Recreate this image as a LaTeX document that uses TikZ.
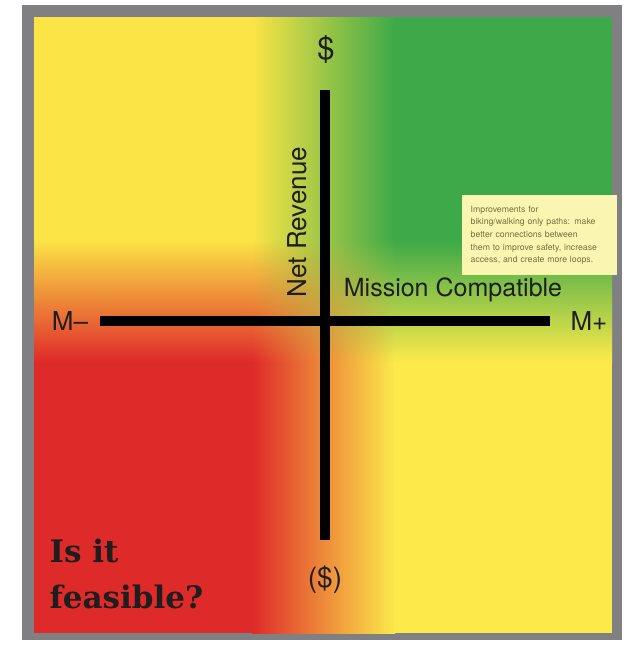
\documentclass[tikz,border=0pt]{standalone}
\usepackage{fontspec}
\usetikzlibrary{shadings}
\setmainfont{TeX Gyre Heros}
\newfontfamily\slabfont{DejaVu Serif}
\definecolor{qyellow}{HTML}{FBE446}
\definecolor{qyellowlow}{HTML}{FCEA4A}
\definecolor{qgreen}{HTML}{3DA948}
\definecolor{qred}{HTML}{DF2A2A}
\definecolor{framegray}{HTML}{808082}
\definecolor{notefill}{HTML}{FAF6B2}
\definecolor{notetext}{HTML}{77713E}
\definecolor{labelink}{HTML}{1E1E1E}
\newcommand{\XLeft}{34}
\newcommand{\XBandA}{252}
\newcommand{\XBandB}{395}
\newcommand{\XRight}{612}
\newcommand{\YTop}{17}
\newcommand{\YBandA}{240}
\newcommand{\YBandB}{362}
\newcommand{\YBottom}{633}

\begin{document}
\begin{tikzpicture}[x=1pt,y=-1pt,
		axislabel/.style={text=labelink,font=\fontsize{26}{30}\selectfont},
		notebox/.style={fill=notefill,anchor=north west,minimum width=155,minimum height=80,
			text width=138,align=left,inner xsep=8.5,inner ysep=7,text=notetext,font=\fontsize{8.7}{12.6}\selectfont},
		bigquestion/.style={text=labelink,anchor=north west,align=left,
			font=\slabfont\bfseries\fontsize{31}{46}\selectfont}]
		\useasboundingbox[fill=white] (0,0) rectangle (629,645);
		\coordinate (FrameTL) at (22,5);
		\coordinate (FrameBR) at (622,640);
		\fill[framegray] (FrameTL) rectangle (FrameBR);% Frame

		% quadrant colours, blended across the bands
		\fill[qyellow] (\XLeft,\YTop) rectangle (\XBandA,\YBandA);% Top Left
		\shade[upper left=qyellow,upper right=qgreen,lower left=qyellow,lower right=qgreen] (\XBandA,\YTop) rectangle (\XBandB,\YBandA);% Top Middle
		\fill[qgreen] (\XBandB,\YTop) rectangle (\XRight,\YBandA);% Top Right
		\shade[upper left=qyellow,upper right=qyellow,lower left=qred,lower right=qred] (\XLeft,\YBandA) rectangle (\XBandA,\YBandB);% Middle Left
		\shade[upper left=qyellow,upper right=qgreen,lower left=qred,lower right=qyellowlow] (\XBandA,\YBandA) rectangle (\XBandB,\YBandB);% Centre
		\shade[upper left=qgreen,upper right=qgreen,lower left=qyellowlow,lower right=qyellowlow] (\XBandB,\YBandA) rectangle (\XRight,\YBandB);% Middle Right
		\fill[qred] (\XLeft,\YBandB) rectangle (\XBandA,\YBottom);% Bottom Left
		\shade[upper left=qred,upper right=qyellowlow,lower left=qred,lower right=qyellowlow] (\XBandA,\YBandB) rectangle (\XBandB,\YBottom);% Bottom Middle
		\fill[qyellowlow] (\XBandB,\YBandB) rectangle (\XRight,\YBottom);% Bottom Right

		% axes
		\coordinate (RevTop) at (325,90);
		\coordinate (RevBottom) at (325,540);
		\coordinate (MisLeft) at (100,321);
		\coordinate (MisRight) at (550,321);
		\draw[black,line width=10] (MisLeft) -- (MisRight);% Mission axis
		\draw[black,line width=10] (RevTop) -- (RevBottom);% Revenue axis

		\node[axislabel,font=\fontsize{31}{34}\selectfont] (dollar) at (326,50) {\$};
		\node[axislabel,font=\fontsize{28}{32}\selectfont] (negdollar) at (325,580) {(\$)};
		\node[axislabel] (mminus) at (70,321) {M–};
		\node[axislabel] (mplus) at (589,321) {M+};
		\node[axislabel,rotate=90] (netrev) at (297,222) {Net Revenue};
		\node[axislabel,font=\fontsize{25}{30}\selectfont] (mission) at (453,290) {Mission Compatible};

		\node[notebox] (note) at (462,195) {Improvements for\\biking/walking only paths: make\\better connections between\\them to improve safety, increase\\access, and create more loops.};
		\node[bigquestion] (feasible) at (46,535) {Is it\\feasible?};
	\end{tikzpicture}
\end{document}
